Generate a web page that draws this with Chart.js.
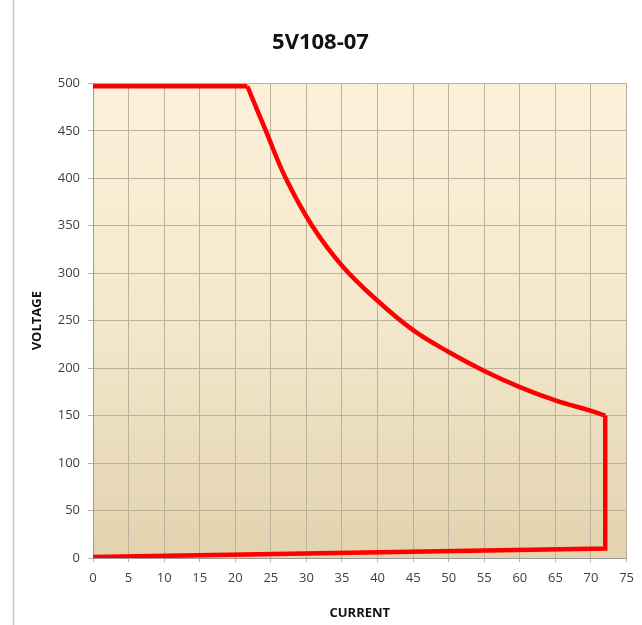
<!DOCTYPE html>
<html>
<head>
<meta charset="utf-8">
<script src="https://cdn.jsdelivr.net/npm/chart.js@4"></script>
<style>
  html, body { margin: 0; padding: 0; background: #fff; }
  #wrap { width: 642px; height: 625px; }
</style>
</head>
<body>
<div id="wrap"><canvas id="vi"></canvas></div>
<script>
// operating envelope
// constant voltage limit
const cvCurrent = [0, 21.7];
const cvVoltage = [497, 497];
// constant power curve
const cpCurrent = [21.7, 24.3, 27.1, 30.8, 35, 40, 45, 50, 55, 60, 65, 70, 72];
const cpVoltage = [497, 450, 400, 350, 308, 271, 240, 217, 197, 180, 166, 155, 150];
// current limit and return along the bottom
const ccCurrent = [72, 72, 0];
const ccVoltage = [150, 10, 1];

const xTicks = [0, 5, 10, 15, 20, 25, 30, 35, 40, 45, 50, 55, 60, 65, 70, 75];
const yTicks = [0, 50, 100, 150, 200, 250, 300, 350, 400, 450, 500];

const toPts = (xs, ys) => xs.map((x, i) => ({ x: x, y: ys[i] }));

// tan gradient behind the plot + grey border line on the left
const bgPlugin = {
  id: 'bg',
  beforeDraw(chart) {
    const c = chart.ctx, a = chart.chartArea;
    c.save();
    c.fillStyle = '#fff';
    c.fillRect(0, 0, chart.width, chart.height);
    const g = c.createLinearGradient(0, a.top, 0, a.bottom);
    g.addColorStop(0, '#fdf0d9');
    g.addColorStop(0.5, '#f3e8cd');
    g.addColorStop(1, '#e2d3ae');
    c.fillStyle = g;
    c.fillRect(a.left, a.top, a.right - a.left, a.bottom - a.top);
    c.strokeStyle = '#c8c8c8';
    c.lineWidth = 1.5;
    c.beginPath();
    c.moveTo(13.5, 0);
    c.lineTo(13.5, chart.height);
    c.stroke();
    c.restore();
  }
};

const lineStyle = {
  showLine: true,
  borderColor: '#ff0000',
  borderWidth: 4.5,
  pointRadius: 0,
  fill: false,
  borderJoinStyle: 'miter'
};

const ctx = document.getElementById('vi').getContext('2d');
new Chart(ctx, {
  type: 'scatter',
  data: {
    datasets: [
      Object.assign({ data: toPts(cvCurrent, cvVoltage), tension: 0 }, lineStyle),
      Object.assign({ data: toPts(cpCurrent, cpVoltage), tension: 0.4 }, lineStyle),
      Object.assign({ data: toPts(ccCurrent, ccVoltage), tension: 0 }, lineStyle)
    ]
  },
  options: {
    responsive: true,
    maintainAspectRatio: false,
    animation: false,
    layout: { padding: { left: 13, right: 14, top: 0, bottom: 0 } },
    plugins: {
      legend: { display: false },
      tooltip: { enabled: false },
      title: {
        display: true,
        text: '5V108-07',
        color: '#111',
        font: { family: 'Open Sans', size: 22, weight: 'bold' },
        padding: { top: 30, bottom: 27 }
      }
    },
    scales: {
      x: {
        type: 'linear',
        min: 0, max: 75,
        afterBuildTicks: s => { s.ticks = xTicks.map(v => ({ value: v })); },
        afterFit: s => { s.height = 67; },
        grid: { color: '#bab29c', lineWidth: 1, tickLength: 4 },
        border: { color: '#999', width: 1 },
        ticks: { color: '#404040', font: { family: 'Open Sans', size: 13 }, padding: 8 },
        title: {
          display: true, text: 'CURRENT', color: '#111',
          font: { family: 'Open Sans', size: 13, weight: 'bold' },
          padding: { top: 6 }
        }
      },
      y: {
        type: 'linear',
        min: 0, max: 500,
        afterBuildTicks: s => { s.ticks = yTicks.map(v => ({ value: v })); },
        afterFit: s => { s.width = 80; },
        grid: { color: '#bab29c', lineWidth: 1, tickLength: 5 },
        border: { color: '#999', width: 1 },
        ticks: { color: '#404040', font: { family: 'Open Sans', size: 13 }, padding: 8 },
        title: {
          display: true, text: 'VOLTAGE', color: '#111',
          font: { family: 'Open Sans', size: 13, weight: 'bold' },
          padding: { top: 16, bottom: 8 }
        }
      }
    }
  },
  plugins: [bgPlugin]
});
</script>
</body>
</html>
